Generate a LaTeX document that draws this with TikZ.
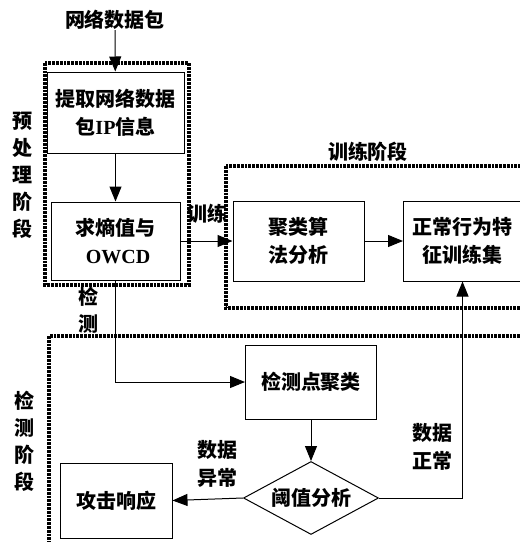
\documentclass[tikz,border=0pt]{standalone}
\usepackage{fontspec}
\setmainfont{Liberation Serif}
\newfontfamily\cjk{Noto Sans CJK SC}
\usetikzlibrary{arrows.meta,shapes.geometric}
\tikzset{
  every node/.style={font=\cjk\bfseries\fontsize{10}{14}\selectfont},
  box/.style={draw, line width=0.5pt, align=center, inner sep=0pt},
  lbl/.style={align=center, inner sep=0pt},
  vlbl/.style={align=center, inner sep=0pt, font=\cjk\bfseries\fontsize{10}{13.5}\selectfont},
  stage/.style={line width=1.6pt, dash pattern=on 1.4pt off 0.5pt},
  arr/.style={line width=0.5pt, -{Triangle[length=7.5pt,width=6pt]}},
  ln/.style={line width=0.5pt}
}
\begin{document}
\begin{tikzpicture}[x=0.5pt,y=-0.5pt]
\useasboundingbox (0,0) rectangle (520,542);
\clip (0,0) rectangle (520,542);
% stage frames
\draw[stage] (45,63) rectangle (189,285);
\draw[stage] (226,166) rectangle (545,308);
\draw[stage] (49,336) rectangle (545,560);
% nodes
\node[lbl] (pkt) at (115,20) {网络数据包};
\node[box, minimum width=68.5pt, minimum height=40.5pt] (b1) at (115.5,112.5) {提取网络数据\\包{\rmfamily IP}信息};
\node[box, minimum width=64.5pt, minimum height=39pt] (b2) at (115.5,241) {求熵值与\\{\rmfamily\ OWCD}};
\node[box, minimum width=65.5pt, minimum height=40pt] (b3) at (298.5,241) {聚类算\\法分析};
\node[box, minimum width=59pt, minimum height=40pt] (b4) at (462.5,241) {正常行为特\\征训练集};
\node[box, minimum width=65.5pt, minimum height=37pt] (b5) at (311,382) {检测点聚类};
\node[draw, line width=0.5pt, diamond, aspect=1.85, minimum width=67.5pt, minimum height=36.5pt, inner sep=0pt] (dia) at (311,498) {阈值分析};
\node[box, minimum width=56pt, minimum height=37.5pt] (b6) at (116,500.5) {攻击响应};
% labels
\node[lbl] (ltrainstage) at (368,152) {训练阶段};
\node[lbl] (ltrain) at (207,214) {训练};
\node[vlbl] (lpre) at (22,175) {预\\处\\理\\阶\\段};
\node[vlbl] (ldetstage) at (25,441) {检\\测\\阶\\段};
\node[vlbl] (ldet) at (88,310) {检\\测};
\node[lbl] (labn) at (218,464) {数据\\异常};
\node[lbl] (lnorm) at (432,447) {数据\\正常};
% connectors
\draw[arr] (pkt) -- (b1);
\draw[arr] (b1) -- (b2);
\draw[arr] (b2) -- (b3);
\draw[arr] (b3) -- (b4);
\draw[arr] (b2.south) |- (b5.west);
\draw[arr] (b5) -- (dia);
\draw[arr] (dia.west) -- (b6.east);
\draw[arr] (dia.east) -| (b4.south);
\end{tikzpicture}
\end{document}
